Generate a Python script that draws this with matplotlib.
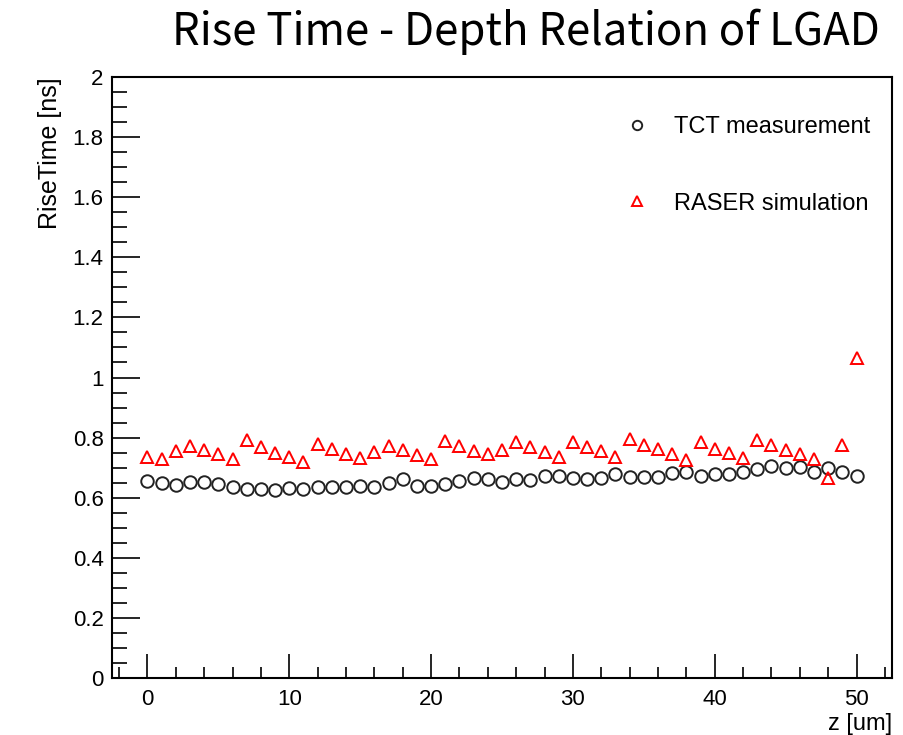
import numpy as np
import matplotlib.pyplot as plt
from matplotlib.ticker import MultipleLocator

plt.rcParams['font.family'] = ['Liberation Sans', 'DejaVu Sans']

# depth positions [um]
z = list(range(0, 51))

# TCT measurement rise time [ns]
tct = [0.656, 0.649, 0.641, 0.652, 0.652, 0.644, 0.636, 0.630, 0.630, 0.627,
       0.632, 0.630, 0.636, 0.634, 0.634, 0.639, 0.636, 0.649, 0.661, 0.639,
       0.639, 0.644, 0.655, 0.664, 0.661, 0.652, 0.661, 0.658, 0.671, 0.672,
       0.667, 0.661, 0.667, 0.678, 0.670, 0.668, 0.670, 0.683, 0.687, 0.672,
       0.678, 0.678, 0.684, 0.695, 0.707, 0.698, 0.703, 0.687, 0.698, 0.684,
       0.673]

# RASER simulation rise time [ns]
raser = [0.735, 0.728, 0.755, 0.772, 0.758, 0.745, 0.729, 0.791, 0.770, 0.750,
         0.736, 0.719, 0.778, 0.761, 0.747, 0.732, 0.753, 0.772, 0.759, 0.743,
         0.729, 0.789, 0.773, 0.757, 0.746, 0.758, 0.784, 0.768, 0.752, 0.735,
         0.787, 0.768, 0.755, 0.737, 0.797, 0.775, 0.762, 0.747, 0.727, 0.785,
         0.763, 0.749, 0.733, 0.792, 0.774, 0.758, 0.744, 0.728, 0.666, 0.774,
         1.065]

fig = plt.figure(figsize=(9.04, 7.35), dpi=100)
ax = fig.add_axes([112/904, 1 - 678/735, 780/904, 601/735])

ax.plot(z, tct, linestyle='none', marker='o', markersize=9, markerfacecolor='none',
        markeredgecolor='#222222', markeredgewidth=1.4, label='TCT measurement')
ax.plot(z, raser, linestyle='none', marker='^', markersize=9, markerfacecolor='none',
        markeredgecolor='red', markeredgewidth=1.4, label='RASER simulation')

ax.set_xlim(-2.5, 52.5)
ax.set_ylim(0, 2)
ax.xaxis.set_major_locator(MultipleLocator(10))
ax.xaxis.set_minor_locator(MultipleLocator(2))
ax.yaxis.set_minor_locator(MultipleLocator(0.05))
ax.set_yticks(np.arange(0, 2.01, 0.2))
ax.set_yticklabels(['0', '0.2', '0.4', '0.6', '0.8', '1', '1.2', '1.4', '1.6', '1.8', '2'])

ax.tick_params(which='both', direction='in', labelsize=16, width=1.2)
ax.tick_params(axis='y', which='major', length=20, pad=6)
ax.tick_params(axis='y', which='minor', length=11)
ax.tick_params(axis='x', which='major', length=17, pad=8)
ax.tick_params(axis='x', which='minor', length=8)
for s in ax.spines.values():
    s.set_linewidth(1.5)

ax.set_xlabel('z [um]', fontsize=17, loc='right', labelpad=2)
ax.set_ylabel('RiseTime [ns]', fontsize=18, loc='top', labelpad=8)

leg = ax.legend(loc='upper right', bbox_to_anchor=(1.0, 0.97), frameon=False,
                fontsize=17, markerscale=0.75, labelspacing=2.3,
                handlelength=1.0, handletextpad=1.1)

fig.text(880/904, 1 - 9/735, 'Rise Time - Depth Relation of LGAD', ha='right', va='top',
         fontsize=31.5, family=['Noto Sans CJK SC', 'DejaVu Sans'])

fig.savefig('out.png', dpi=100)
